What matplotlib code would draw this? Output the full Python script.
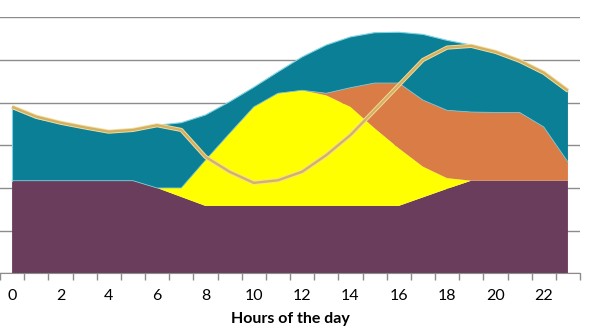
import numpy as np
import matplotlib
matplotlib.use('Agg')
import matplotlib.pyplot as plt

plt.rcParams['font.family'] = ['Lato', 'DejaVu Sans']

hours = np.arange(24)
# stacked layers (grid units)
base = [2.17, 2.17, 2.17, 2.17, 2.17, 2.17, 2.0, 1.79, 1.58, 1.58, 1.58, 1.58,
        1.58, 1.58, 1.58, 1.58, 1.58, 1.78, 1.98, 2.17, 2.17, 2.17, 2.17, 2.17]
solar = [0, 0, 0, 0, 0, 0, 0, 0.21, 1.07, 1.70, 2.32, 2.64,
         2.71, 2.59, 2.32, 1.82, 1.35, 0.72, 0.25, 0, 0, 0, 0, 0]
orange = [0, 0, 0, 0, 0, 0, 0, 0, 0, 0, 0, 0,
          0, 0.05, 0.45, 1.06, 1.53, 1.56, 1.59, 1.61, 1.60, 1.60, 1.26, 0.44]
teal = [1.69, 1.46, 1.34, 1.23, 1.16, 1.19, 1.47, 1.53, 1.06, 0.74, 0.46, 0.50,
        0.78, 1.13, 1.19, 1.18, 1.19, 1.54, 1.64, 1.57, 1.42, 1.19, 1.24, 1.64]
demand = [3.90, 3.67, 3.53, 3.42, 3.32, 3.36, 3.47, 3.36, 2.73, 2.38, 2.12, 2.18,
          2.38, 2.77, 3.24, 3.82, 4.41, 5.00, 5.29, 5.33, 5.19, 4.98, 4.70, 4.28]
xticks = np.arange(0, 24, 2)

fig = plt.figure(figsize=(6, 3.36), dpi=100)
ax = fig.add_axes([0.0, 0.1866, 0.9667, 0.7619])

ax.stackplot(hours, base, solar, orange, teal,
             colors=['#6A3D5C', '#FFFF00', '#D97C45', '#0A7F96'],
             edgecolor='none', zorder=2)

# thin light edges on the teal layer like the original
top = np.array(base) + np.array(solar) + np.array(orange) + np.array(teal)
mid = np.array(base) + np.array(solar) + np.array(orange)
ax.plot(hours, top, color='#7FD3E0', lw=0.8, zorder=3)
ax.plot(hours, mid, color='#7FC3D0', lw=0.6, zorder=3)
ax.plot([0, 0], [base[0], top[0]], color='#7FD3E0', lw=0.8, zorder=3)

ax.plot(hours, demand, color='#F3DFA0', lw=3.0, zorder=4, solid_capstyle='butt')
ax.plot(hours, demand, color='#D4B062', lw=1.7, zorder=5, solid_capstyle='butt')

ax.set_xlim(-0.5, 23.5)
ax.set_ylim(0, 6)
ax.set_yticks(np.arange(0, 7, 1))
ax.yaxis.grid(True, color='#8C8C8C', lw=1)
ax.set_axisbelow(True)
ax.tick_params(axis='y', length=0, labelleft=False)

ax.set_xticks(xticks)
ax.set_xticklabels([str(h) for h in xticks])
ax.set_xticks(np.arange(-0.5, 24, 1), minor=True)
ax.tick_params(axis='x', which='major', length=0, pad=11, labelsize=11.5, colors='black')
ax.tick_params(axis='x', which='minor', length=5, color='#8C8C8C', width=1)

for s in ['top', 'left', 'right']:
    ax.spines[s].set_visible(False)
ax.spines['bottom'].set_color('#8C8C8C')

ax.set_xlabel('Hours of the day', fontsize=11.5, fontweight='bold', labelpad=7)

fig.savefig('out.png', dpi=100)
